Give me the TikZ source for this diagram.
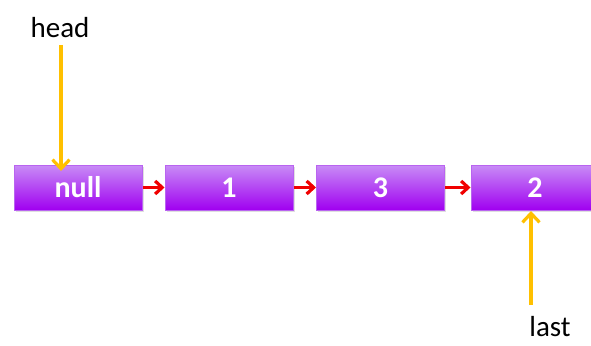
\documentclass[tikz,border=0pt]{standalone}
\usepackage{fontspec}
\setmainfont{Carlito}
\usetikzlibrary{arrows.meta,shadows}
\definecolor{boxtop}{RGB}{200,140,246}
\definecolor{boxbot}{RGB}{160,0,240}
\definecolor{boxedge}{RGB}{185,100,240}
\definecolor{ptr}{RGB}{255,192,0}
\definecolor{lnk}{RGB}{240,0,0}
\tikzset{
  cell/.style={draw=boxedge, line width=1pt, top color=boxtop, bottom color=boxbot,
    minimum width=128pt, minimum height=45pt, inner sep=0pt,
    text=white, font=\fontsize{30}{30}\selectfont\bfseries,
    drop shadow={opacity=0.25, shadow xshift=1.5pt, shadow yshift=-1.5pt}},
  link/.style={draw=lnk, line width=3.2pt, -{Straight Barb[length=7pt,width=13pt,line width=3.2pt]}},
  pointer/.style={draw=ptr, line width=3.2pt, -{Straight Barb[length=9pt,width=17pt,line width=3.2pt]}},
  lbl/.style={font=\fontsize{29}{29}\selectfont, text=black, inner sep=0pt}
}
\begin{document}
\begin{tikzpicture}[x=1pt,y=-1pt]
\useasboundingbox (0,0) rectangle (591,345);
\node[cell] (n0) at (78,187.5) {null};
\node[cell] (n1) at (229,187.5) {1};
\node[cell] (n2) at (380.5,187.5) {3};
\node[cell] (n3) at (535,187.5) {2};
\node[lbl] (head) at (60,28) {head};
\node[lbl] (last) at (550,327) {last};
\draw[link] (n0.east) -- (n1.west);
\draw[link] (n1.east) -- (n2.west);
\draw[link] (n2.east) -- (n3.west);
\coordinate (h1) at (61,45);
\coordinate (h2) at (61,171);
\draw[pointer] (h1) -- (h2);
\coordinate (l1) at (531,305);
\coordinate (l2) at (531,211);
\draw[pointer] (l1) -- (l2);
\end{tikzpicture}
\end{document}
